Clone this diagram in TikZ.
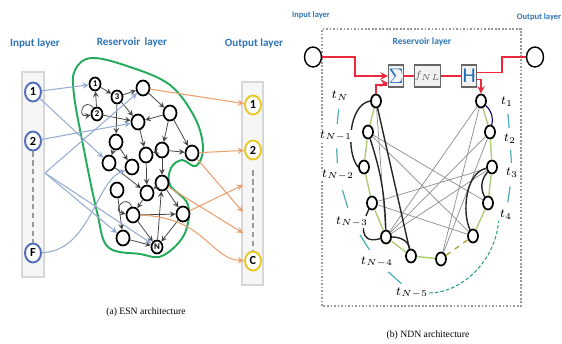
\documentclass[tikz,border=0pt]{standalone}
\usepackage{fontspec}
\setmainfont{Liberation Serif}
\newfontfamily\calib{Carlito}
\usepackage{xcolor}
\usepackage{tikz}
\usetikzlibrary{shapes,arrows,positioning,calc}

\definecolor{titleblue}{RGB}{46,117,182}
\definecolor{inblue}{RGB}{85,110,185}
\definecolor{outyellow}{RGB}{232,200,40}
\definecolor{boxline}{RGB}{215,215,215}
\definecolor{boxfill}{RGB}{246,246,246}
\definecolor{esngreen}{RGB}{35,170,90}
\definecolor{inlinkc}{RGB}{150,172,210}
\definecolor{outlinkc}{RGB}{235,160,110}
\definecolor{resgray}{RGB}{70,70,70}
\definecolor{ndnred}{RGB}{235,40,60}
\definecolor{ringgreen}{RGB}{175,205,120}
\definecolor{tealc}{RGB}{80,175,185}
\definecolor{dashgreen}{RGB}{40,160,130}
\definecolor{symblue}{RGB}{30,110,180}

\begin{document}
\begin{tikzpicture}[
    x=0.02cm, y=0.02cm,
    title/.style={font=\calib\bfseries\fontsize{6.3}{7}\selectfont, text=titleblue},
    smalltitle/.style={font=\calib\bfseries\fontsize{4.8}{5}\selectfont, text=titleblue},
    caption/.style={font=\fontsize{5.5}{6}\selectfont},
    layerbox/.style={rectangle, draw=boxline, fill=boxfill, line width=0.8pt},
    innode/.style={ellipse, draw=inblue, line width=1.1pt, fill=white, minimum width=0.32cm, minimum height=0.38cm, inner sep=0pt, font=\calib\bfseries\fontsize{7}{8}\selectfont},
    outnode/.style={innode, draw=outyellow},
    res/.style={ellipse, draw=black, line width=1pt, fill=white, minimum width=0.26cm, minimum height=0.3cm, inner sep=0pt},
    reslab/.style={res, minimum width=0.22cm, minimum height=0.26cm, font=\calib\bfseries\fontsize{5}{5}\selectfont},
    arrow/.style={->, >=stealth, draw=resgray, line width=0.45pt},
    inlink/.style={->, >=stealth, draw=inlinkc, line width=0.6pt},
    outlink/.style={->, >=stealth, draw=outlinkc, line width=0.6pt},
    dots/.style={draw=gray!80, densely dashed, line width=0.8pt},
    ndn/.style={ellipse, draw=black, line width=1pt, fill=white, minimum width=0.2cm, minimum height=0.26cm, inner sep=0pt},
    io/.style={ellipse, draw=black, line width=0.8pt, fill=white, minimum width=0.34cm, minimum height=0.4cm, inner sep=0pt},
    unit/.style={rectangle, draw=black!60, fill=black!5, line width=0.6pt, minimum width=0.3cm, minimum height=0.44cm, inner sep=0pt},
    flow/.style={draw=ndnred, line width=0.9pt},
    ring/.style={draw=ringgreen, line width=0.8pt},
    chord/.style={draw=black!45, line width=0.4pt},
    heavy/.style={draw=black!85, line width=0.8pt},
    tlab/.style={fill=white, inner sep=0.5pt, font=\fontsize{7.5}{8}\selectfont},
    tealdash/.style={draw=tealc, line width=0.7pt}
]
    \useasboundingbox (0,0) rectangle (562,343);

    % ESN architecture
    \node[title] (intitle) at (35,300) {Input layer};
    \node[title] (restitle) at (132,301) {Reservoir \,layer};
    \node[title] (outtitle) at (254,300) {Output layer};

    \node[layerbox, minimum width=0.44cm, minimum height=4.1cm] (inbox) at (33,168.5) {};
    \node[layerbox, minimum width=0.42cm, minimum height=4.06cm] (outbox) at (252.5,159.5) {};

    \draw[esngreen, line width=1.1pt] plot[smooth cycle, tension=0.6] coordinates {
        (75,273) (92,285) (130,276) (170,258) (195,225) (203,195) (196,177)
        (182,183) (171,175) (170,158) (188,138) (184,108) (162,87) (140,89)
        (108,96) (97,131) (84,193) (74,248)};

    \node[innode] (in1) at (33,251) {1};
    \node[innode] (in2) at (33,202) {2};
    \node[innode] (inF) at (33,90) {F};
    \draw[dots] (in2.south) -- (inF.north);

    \node[outnode] (out1) at (253,238) {1};
    \node[outnode] (out2) at (253,193) {2};
    \node[outnode] (outC) at (253,82) {C};
    \draw[dots, shorten <=0.2cm] (out2.south) -- (outC.north);

    \node[reslab] (r1) at (95,259) {1};
    \node[reslab] (r3) at (117,246) {3};
    \node[reslab] (r2) at (97,229) {2};
    \node[res] (ra) at (143,255) {};
    \node[res] (rb) at (170,230) {};
    \node[res] (rc) at (138,221) {};
    \node[res] (rd) at (116,201) {};
    \node[res] (re) at (146,188) {};
    \node[res] (rf) at (162,193) {};
    \node[res] (rg) at (192,190) {};
    \node[res] (rh) at (109,180) {};
    \node[res] (ri) at (132,176) {};
    \node[res] (rj) at (117,153) {};
    \node[res] (rk) at (162,160) {};
    \node[res] (rl) at (147,150) {};
    \node[res] (rm) at (133,128) {};
    \node[res] (rp) at (183,129) {};
    \node[res] (rq) at (123,105) {};
    \node[reslab] (rN) at (157,96) {N};

    \foreach \a/\b in {r2/r1, r1/r3, r3/ra, r2/rc, r3/rd, r3/rc, ra/rb, rb/rc, rb/rg,
        rc/re, rb/rf, rf/re, rf/rg, rd/rh, rd/ri, rh/rl, re/rl, rf/rk, rk/rl, rk/rp,
        rj/rq, rl/rm, rm/rp, rm/rN, rq/rN, rp/rN, rN/rk}
        \draw[arrow] (\a) -- (\b);
    \draw[arrow] (r2.120) .. controls +(130:0.3cm) and +(190:0.3cm) .. (r2.190);
    \draw[arrow] (rm.100) .. controls +(110:0.3cm) and +(170:0.3cm) .. (rm.170);

    \coordinate (fan) at (45,170);
    \draw[inlink] (in1) -- (r1);
    \draw[inlink] (in1) -- (rh);
    \draw[inlink] (in2) -- (rc);
    \foreach \b in {ra, rq, rN}
        \draw[inlink] (fan) -- (\b);
    \draw[inlink] (inF) .. controls (90,92) and (95,160) .. (ri);

    \coordinate (o3) at (243,158);
    \coordinate (o4) at (243,131);
    \coordinate (o5) at (243,110);
    \draw[outlink] (ra) -- (out1);
    \draw[outlink] (rg) -- (out2);
    \draw[outlink] (rp) -- (o3);
    \draw[outlink] (rg) -- (o4);
    \draw[outlink] (rk) -- (o5);
    \draw[outlink] (rm) .. controls (205,126) and (210,84) .. (outC);

    \node[caption] (capa) at (146,31) {(a) ESN architecture};

    % NDN architecture
    \draw[draw=black!40, dash pattern=on 1pt off 1pt, line width=0.6pt] (322,37) rectangle (521,314);
    \node[smalltitle] (ndnin) at (311,328) {Input layer};
    \node[smalltitle] (ndnout) at (539,326) {Output layer};
    \node[title, font=\calib\bfseries\fontsize{5.4}{6}\selectfont] (ndnres) at (422,301) {Reservoir layer};

    \node[io] (inp) at (313,286) {};
    \node[io] (outp) at (535,286) {};

    \node[unit, font=\calib\fontsize{12}{12}\selectfont, text=symblue] (sum) at (396,267) {$\Sigma$};
    \node[unit, right=0.2cm of sum, minimum width=0.52cm, font=\fontsize{6}{6}\selectfont, text=black!60] (fnl) {$f_{NL}$};
    \node[unit, right=0.4cm of fnl, font=\calib\fontsize{12}{12}\selectfont, text=symblue] (hid) {H};

    \node[ndn] (tN) at (376,242) {};
    \node[ndn] (tN1) at (368,211) {};
    \node[ndn] (tN2) at (364,176) {};
    \node[ndn] (tN3) at (372,140) {};
    \node[ndn] (tN4) at (386,106) {};
    \node[ndn] (tN5) at (411,87) {};
    \node[ndn] (t6) at (441,84) {};
    \node[ndn] (t5) at (473,107) {};
    \node[ndn] (t4) at (488,140) {};
    \node[ndn] (t3) at (492,176) {};
    \node[ndn] (t2) at (490,211) {};
    \node[ndn] (t1) at (481,242) {};

    \draw[flow, ->, >=stealth] (inp.east) -- (355,286) |- (sum.west);
    \draw[flow] (sum) -- (fnl);
    \draw[flow] (fnl) -- (hid);
    \draw[flow] ([yshift=2pt]hid.east) -| (502,286) -- (outp.west);
    \draw[flow, ->, >=stealth] ([yshift=-2pt]hid.east) -| (t1.north);
    \draw[flow, ->, >=stealth] (tN.north) |- (386,258) |- ([yshift=-4pt]sum.west);

    \foreach \a/\b in {tN/tN1, tN1/tN2, tN2/tN3, tN3/tN4, tN4/tN5, tN5/t6, t5/t4, t4/t3, t3/t2, t2/t1}
        \draw[ring] (\a) -- (\b);
    \draw[ring, dashed, draw=olive!70] (t6) -- (t5);

    \foreach \a/\b in {tN1/t4, tN1/t5, tN3/t3, tN3/t5, tN4/t3, tN4/t2, t1/tN4, t1/t6, t2/t6, tN/tN4}
        \draw[chord] (\a) -- (\b);
    \draw[heavy] (tN) -- (tN5);
    \draw[heavy] (tN1) to[bend left=8] (tN4);
    \draw[heavy] (tN.west) .. controls (348,238) and (346,190) .. (tN2.west);
    \draw[heavy] (tN3) .. controls (362,120) and (358,98) .. (tN4);
    \draw[heavy] (tN4) to[out=0, in=100] (tN5);
    \draw[heavy] (t3) .. controls (465,170) and (462,130) .. (t5);
    \draw[heavy] (t3) to[bend right=35] (t4);
    \draw[draw=blue!50!black, line width=0.6pt] (t1) to[bend left=30] (t2);

    \node[tlab] (lN) at (340,247) {$t_N$};
    \node[tlab] (lN1) at (336,207) {$t_{N-1}$};
    \node[tlab] (lN2) at (338,168) {$t_{N-2}$};
    \node[tlab] (lN3) at (352,121) {$t_{N-3}$};
    \node[tlab] (lN4) at (377,81) {$t_{N-4}$};
    \node[tlab] (lN5) at (412,50) {$t_{N-5}$};
    \node[tlab] (l1) at (507,241) {$t_1$};
    \node[tlab] (l2) at (510,204) {$t_2$};
    \node[tlab] (l3) at (512,170) {$t_3$};
    \node[tlab] (l4) at (506,128) {$t_4$};

    \foreach \a/\b in {lN/lN1, lN1/lN2, lN2/lN3, lN3/lN4, lN4/lN5, l1/l2, l2/l3, l3/l4}
        \draw[tealdash] ($(\a)!0.32!(\b)$) -- ($(\a)!0.7!(\b)$);
    \draw[draw=dashgreen, line width=0.6pt, dash pattern=on 2pt off 1.2pt] (lN5.east) .. controls (460,50) and (495,80) .. (l4.south west);

    \node[caption] (capb) at (428,8) {(b) NDN architecture};
\end{tikzpicture}
\end{document}
